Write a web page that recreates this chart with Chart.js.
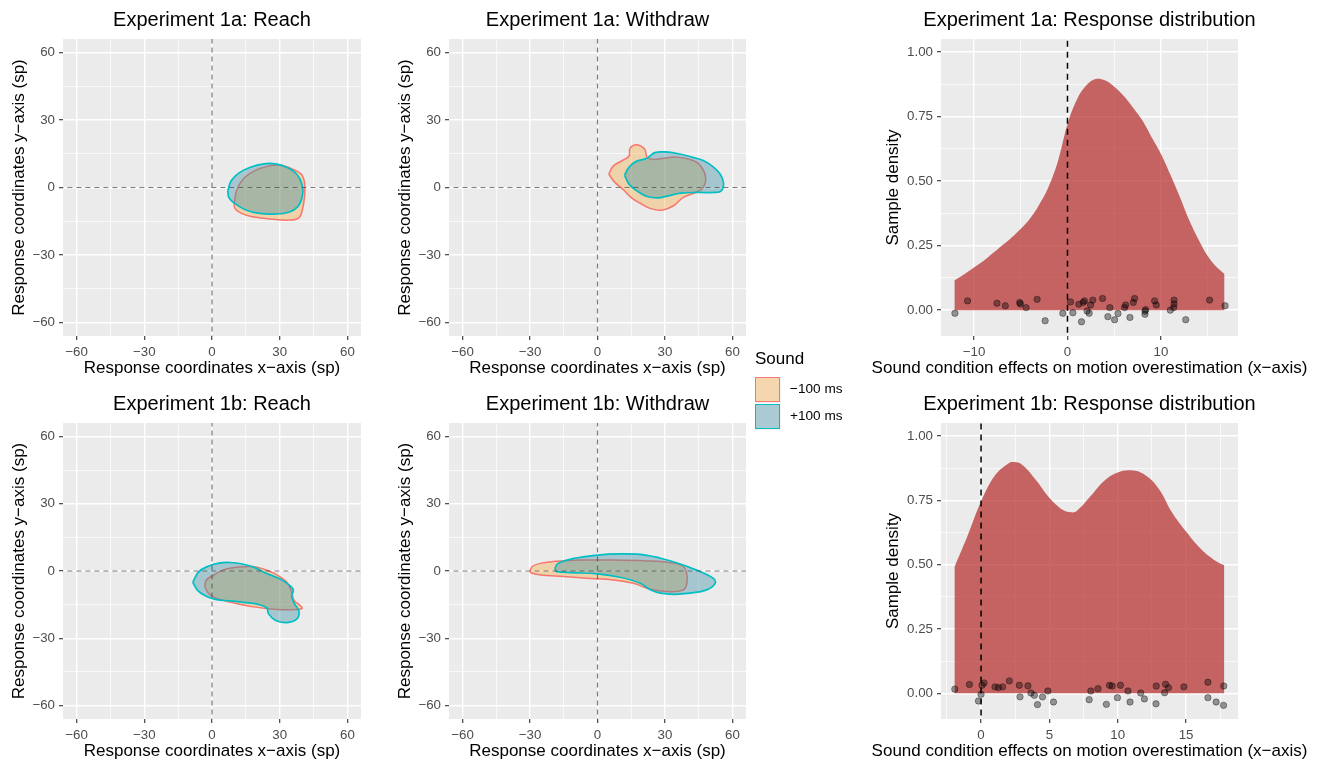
<!DOCTYPE html>
<html>
<head>
<meta charset="utf-8">
<script src="https://cdn.jsdelivr.net/npm/chart.js@4.4.0/dist/chart.umd.min.js"></script>
<style>
  html, body { margin: 0; padding: 0; background: #fff; width: 1320px; height: 762px; overflow: hidden; position: relative; }
  body { font-family: "Liberation Sans", Arial, sans-serif; }
  canvas { position: absolute; }
  .legend-title { position: absolute; left: 755px; top: 349px; font-size: 17px; color: #000; }
  .key { position: absolute; left: 755px; width: 26px; height: 26px; background: #F2F2F2; }
  .key div { position: absolute; left: 0; top: 0; width: 23px; height: 23px; border-width: 1.5px; border-style: solid; }
  .key-label { position: absolute; left: 790px; font-size: 13.6px; color: #000; }
</style>
</head>
<body>
<canvas id="c1a_reach" width="371" height="380" style="left:0px;top:0px"></canvas>
<canvas id="c1a_withdraw" width="370" height="380" style="left:386px;top:0px"></canvas>
<canvas id="c1a_dist" width="459" height="380" style="left:861px;top:0px"></canvas>
<canvas id="c1b_reach" width="371" height="379" style="left:0px;top:384px"></canvas>
<canvas id="c1b_withdraw" width="370" height="379" style="left:386px;top:384px"></canvas>
<canvas id="c1b_dist" width="459" height="379" style="left:861px;top:384px"></canvas>

<div class="legend-title">Sound</div>
<div class="key" style="top:377px"><div id="keyMinus"></div></div>
<div class="key-label" id="labMinus" style="top:381px"></div>
<div class="key" style="top:404px"><div id="keyPlus"></div></div>
<div class="key-label" id="labPlus" style="top:408px"></div>

<script>
// ---- data ----
const soundLabels = ['\u2212100 ms', '+100 ms'];

// contour outlines (x, y in sp)
const reach1aMinus = [[10,-6],[11,-1],[14,4],[19,7.5],[25,9.5],[30,10],[35,8.5],[39.5,6],[41,2],[41,-4],[40,-10],[38.5,-13.5],[34,-14.5],[26,-14],[18,-13],[13,-11.5],[10,-9],[10,-6]];
const reach1aPlus = [[7,-1.5],[8.5,3],[12,6.5],[17,9],[23,10.5],[28,10.5],[33,9],[37.5,6],[40,1],[40,-4],[38,-8.5],[34,-11],[28,-11.8],[21,-11.5],[15,-10],[10,-7],[7.5,-4.5],[7,-1.5]];

const withdraw1aMinus = [[5,6],[7,9.5],[11,12],[14,14],[14.5,17.5],[17.5,19],[21,17],[22,13.5],[25,12.5],[29.5,13],[35,13.5],[41,12.5],[45,10.5],[48,5],[47,0],[44,-2],[38,-4.5],[34,-8],[29,-10],[24,-9.5],[19,-7],[15,-4.5],[11.5,-1],[7.5,2.5],[5,6]];
const withdraw1aPlus = [[12,5.5],[14,9],[17,11.5],[22,13],[25.5,15.5],[30,15.8],[36,15],[42,13.5],[47,12],[51,9.5],[54.5,6],[56,2],[55,-1.5],[52,-2.2],[45,-2.2],[37,-2.5],[31,-3.8],[27,-4.6],[22,-4],[17.5,-1.5],[14,1.5],[12,5.5]];

const reach1bMinus = [[-3.2,-7],[-2.5,-4],[0.5,-2],[5,0.5],[10,1.6],[18,2],[23,0.8],[28,-1.3],[33,-4.8],[35.3,-9.5],[36.3,-13],[38.8,-15.2],[40,-16.5],[37.5,-17.2],[29,-17.2],[18.5,-16],[9.5,-14.2],[2,-12.2],[-1.5,-10],[-3.2,-7]];
const reach1bPlus = [[-8.5,-5],[-6,-0.5],[-2,2],[3,3.5],[8,3.8],[14,3],[19,1.5],[24,-1],[30,-3.5],[34.5,-6.5],[36,-8.5],[35.3,-11.5],[36.5,-14.5],[38.5,-18],[37.5,-21.5],[33,-23],[28,-22],[25,-19],[24.3,-16.5],[20,-14.8],[14,-14],[8,-13.3],[2,-12.8],[-3,-11],[-6.5,-8.5],[-8.5,-5]];

const withdraw1bMinus = [[-30,0],[-29,2],[-25.5,3.4],[-18,4.4],[-8,4.9],[7,4.9],[22,4.5],[32,3.8],[37.5,2.5],[39.5,-0.5],[39.8,-5],[38.5,-8.2],[34,-9.2],[27,-8.8],[22,-7.7],[16,-5.5],[7,-4],[-3,-3.3],[-15,-2.5],[-26,-1.7],[-29.5,-0.8],[-30,0]];
const withdraw1bPlus = [[-19,1],[-17.5,3.4],[-11,5.5],[-1,7],[10,7.6],[22,7],[34,4],[44,0.4],[51.5,-3.3],[52.3,-5.5],[48.5,-8.4],[41,-9.9],[34,-10.4],[28,-9.9],[23.5,-8.4],[19,-5.5],[10,-2.8],[0,-1.3],[-12,-0.7],[-18,-0.3],[-19,1]];

// density curves
const dens1aX = [-12.1,-11,-10,-9,-8,-7,-6,-5,-4,-3,-2,-1,0,1,2,3,4,5,6,7,8,9,10,11,12,13,14,15,16,16.8];
const dens1aY = [0.115,0.14,0.165,0.19,0.22,0.25,0.28,0.315,0.355,0.41,0.48,0.58,0.72,0.815,0.87,0.895,0.89,0.865,0.83,0.785,0.735,0.67,0.605,0.525,0.44,0.35,0.275,0.21,0.165,0.14];
const dens1bX = [-1.95,-1,0,1,2,2.4,3,4,5,6,6.6,7,8,9,10,11,12,13,14,15,16,17,17.8];
const dens1bY = [0.49,0.61,0.745,0.845,0.893,0.898,0.888,0.83,0.76,0.712,0.703,0.708,0.765,0.825,0.858,0.866,0.848,0.795,0.70,0.628,0.565,0.52,0.497];

// jittered participant effects
const jit1aX = [-10.69,-7.54,-6.65,-5.11,-5.04,-4.43,-3.25,0.32,1.21,1.68,1.82,2.47,2.71,2.1,3.75,4.53,6.11,6.22,7.04,7.18,8.36,9.32,9.5,11.4,11.4,11.36,15.2,16.86,-12.04,-2.39,-0.5,0.57,1.5,2.32,4.32,5.04,5.4,6.68,8.29,8.29,11.0,12.65];
const jit1aY = [0.036,0.027,0.017,0.03,0.024,0.01,0.042,0.032,0.023,0.03,0.036,0.02,0.039,-0.003,0.045,0.01,0.01,0.02,0.03,0.045,0.002,0.036,0.02,0.039,0.024,0.01,0.039,0.017,-0.012,-0.041,-0.012,-0.01,-0.045,-0.012,-0.025,-0.037,-0.013,-0.028,-0.016,-0.004,0.0,-0.037];
const jit1bX = [-1.92,-0.85,-0.19,0,0.07,0.22,1.02,1.27,1.58,2.07,2.8,2.85,3.43,3.65,3.9,4.13,4.5,4.89,5.3,7.91,8.03,8.56,9.17,9.4,9.6,9.98,10.2,10.75,10.9,11.68,11.95,12.8,12.82,13.43,13.5,13.72,14.84,16.6,16.6,17.2,17.74,17.76];
const jit1bY = [0.016,0.034,-0.03,-0.004,0.031,0.04,0.025,0.022,0.025,0.048,0.031,-0.014,0.029,0.001,-0.008,-0.044,-0.014,0.009,-0.034,-0.025,0.009,0.018,-0.043,0.031,0.028,-0.017,0.031,0.009,-0.034,0.001,-0.022,-0.041,0.028,0.002,0.035,0.022,0.025,0.043,-0.017,-0.034,-0.047,0.028];

// ticks and ranges
const coordMajor = [-60, -30, 0, 30, 60];
const coordMinor = [-45, -15, 15, 45];
const coordRange = [-66, 66];
const densMajor = [0, 0.25, 0.5, 0.75, 1];
const densMinor = [0.125, 0.375, 0.625, 0.875];
const densRange = [-0.1, 1.05];
const x1aMajor = [-10, 0, 10];
const x1aMinor = [-5, 5, 15];
const x1aRange = [-13.53, 18.24];
const x1bMajor = [0, 5, 10, 15];
const x1bMinor = [-2.5, 2.5, 7.5, 12.5, 17.5];
const x1bRange = [-2.93, 18.8];

// ---- styles ----
const FONT = '"Liberation Sans", Arial, sans-serif';
const MINUS_LINE = '#F8766D';
const MINUS_FILL = 'rgba(246,170,62,0.38)';
const PLUS_LINE = '#00BFC4';
const PLUS_FILL = 'rgba(52,140,160,0.38)';
const DENS_FILL = 'rgba(178,34,34,0.68)';

Chart.defaults.font.family = FONT;
Chart.defaults.color = '#4D4D4D';

const panelBg = {
    id: 'panelBg',
    beforeDraw(chart) {
        const { ctx, chartArea: a } = chart;
        ctx.save();
        ctx.fillStyle = '#EBEBEB';
        ctx.fillRect(a.left, a.top, a.right - a.left, a.bottom - a.top);
        ctx.restore();
    }
};

// titles drawn centred on the panel, allowed to run wider than it
const panelText = {
    id: 'panelText',
    afterDraw(chart, args, o) {
        const { ctx, chartArea: a } = chart;
        const cx = (a.left + a.right) / 2;
        ctx.save();
        ctx.fillStyle = '#000';
        ctx.textAlign = 'center';
        ctx.textBaseline = 'middle';
        ctx.font = '20px ' + FONT;
        ctx.fillText(o.title, cx, a.top - 19);
        if (o.xTitle) {
            ctx.font = '17px ' + FONT;
            ctx.fillText(o.xTitle, cx, a.bottom + 32);
        }
        ctx.restore();
    }
};

const minus = (v) => (v < 0 ? '\u2212' + Math.abs(v) : String(v));

function axis(range, major, minor, fmt, titleText, isY, titlePad) {
    const all = major.concat(minor).sort((a, b) => a - b);
    return {
        type: 'linear',
        min: range[0],
        max: range[1],
        afterBuildTicks: (s) => { s.ticks = all.map(v => ({ value: v })); },
        afterFit: (s) => { if (isY) s.width = 63; else s.height = 44; },
        ticks: {
            color: '#4D4D4D',
            font: { size: 13.3 },
            padding: 4,
            autoSkip: false,
            maxRotation: 0,
            callback: (v) => (major.includes(v) ? fmt(v) : '')
        },
        grid: {
            color: '#FFFFFF',
            lineWidth: (c) => (c.tick && major.includes(c.tick.value) ? 1.4 : 0.7),
            tickLength: 4,
            tickWidth: 1.1,
            tickColor: (c) => (c.tick && major.includes(c.tick.value) ? '#333333' : 'rgba(0,0,0,0)')
        },
        border: { display: false },
        title: {
            display: titleText !== null,
            text: titleText || '',
            color: '#000',
            font: { size: 17 },
            padding: isY ? { top: titlePad, bottom: 0 } : { top: 0, bottom: titlePad }
        }
    };
}

function baseOptions(titleText, xTitle, padLeft, padRight) {
    return {
        responsive: false,
        animation: false,
        events: [],
        layout: { padding: { left: padLeft, right: padRight, top: 39, bottom: 0 } },
        plugins: {
            legend: { display: false },
            tooltip: { enabled: false },
            title: { display: false },
            panelText: { title: titleText, xTitle: xTitle }
        }
    };
}

const toXY = (pairs) => pairs.map(p => ({ x: p[0], y: p[1] }));

function contourPanel(id, titleText, minusPts, plusPts) {
    const opts = baseOptions(titleText, null, 0, 10);
    opts.scales = {
        x: axis(coordRange, coordMajor, coordMinor, minus, 'Response coordinates x\u2212axis (sp)', false, 1.8),
        y: axis(coordRange, coordMajor, coordMinor, minus, 'Response coordinates y\u2212axis (sp)', true, 9.5)
    };
    const dashed = { borderColor: 'rgba(70,70,70,0.7)', borderWidth: 1.2, borderDash: [5, 4], pointRadius: 0, fill: false };
    new Chart(document.getElementById(id), {
        type: 'line',
        data: {
            datasets: [
                Object.assign({ data: [{ x: -80, y: 0 }, { x: 80, y: 0 }] }, dashed),
                Object.assign({ data: [{ x: 0, y: -80 }, { x: 0, y: 80 }] }, dashed),
                { label: soundLabels[1], data: toXY(plusPts), borderColor: PLUS_LINE, backgroundColor: PLUS_FILL,
                  borderWidth: 1.7, fill: 'shape', tension: 0.4, pointRadius: 0 },
                { label: soundLabels[0], data: toXY(minusPts), borderColor: MINUS_LINE, backgroundColor: MINUS_FILL,
                  borderWidth: 1.5, fill: 'shape', tension: 0.4, pointRadius: 0 }
            ]
        },
        options: opts,
        plugins: [panelBg, panelText]
    });
}

function densityPanel(id, titleText, dX, dY, jX, jY, xRange, xMajor, xMinor) {
    const opts = baseOptions(titleText, 'Sound condition effects on motion overestimation (x\u2212axis)', 17, 82);
    opts.scales = {
        x: axis(xRange, xMajor, xMinor, minus, null, false, 0),
        y: axis(densRange, densMajor, densMinor, (v) => v.toFixed(2), 'Sample density', true, 4.8)
    };
    new Chart(document.getElementById(id), {
        type: 'line',
        data: {
            datasets: [
                { data: jX.map((x, i) => ({ x: x, y: jY[i] })), showLine: false, pointRadius: 3.2,
                  backgroundColor: 'rgba(0,0,0,0.38)', borderColor: 'rgba(0,0,0,0.45)', borderWidth: 0.8 },
                { data: [{ x: 0, y: -0.3 }, { x: 0, y: 1.3 }], borderColor: '#000', borderWidth: 1.5,
                  borderDash: [6, 5], pointRadius: 0, fill: false },
                { data: dX.map((x, i) => ({ x: x, y: dY[i] })), borderColor: 'rgba(0,0,0,0)', borderWidth: 1,
                  backgroundColor: DENS_FILL, fill: 'origin', tension: 0.4, pointRadius: 0 }
            ]
        },
        options: opts,
        plugins: [panelBg, panelText]
    });
}

contourPanel('c1a_reach', 'Experiment 1a: Reach', reach1aMinus, reach1aPlus);
contourPanel('c1a_withdraw', 'Experiment 1a: Withdraw', withdraw1aMinus, withdraw1aPlus);
densityPanel('c1a_dist', 'Experiment 1a: Response distribution', dens1aX, dens1aY, jit1aX, jit1aY, x1aRange, x1aMajor, x1aMinor);
contourPanel('c1b_reach', 'Experiment 1b: Reach', reach1bMinus, reach1bPlus);
contourPanel('c1b_withdraw', 'Experiment 1b: Withdraw', withdraw1bMinus, withdraw1bPlus);
densityPanel('c1b_dist', 'Experiment 1b: Response distribution', dens1bX, dens1bY, jit1bX, jit1bY, x1bRange, x1bMajor, x1bMinor);

// legend
document.getElementById('keyMinus').style.cssText = 'background:' + MINUS_FILL + ';border-color:' + MINUS_LINE;
document.getElementById('keyPlus').style.cssText = 'background:' + PLUS_FILL + ';border-color:' + PLUS_LINE;
document.getElementById('labMinus').textContent = soundLabels[0];
document.getElementById('labPlus').textContent = soundLabels[1];
</script>
</body>
</html>
